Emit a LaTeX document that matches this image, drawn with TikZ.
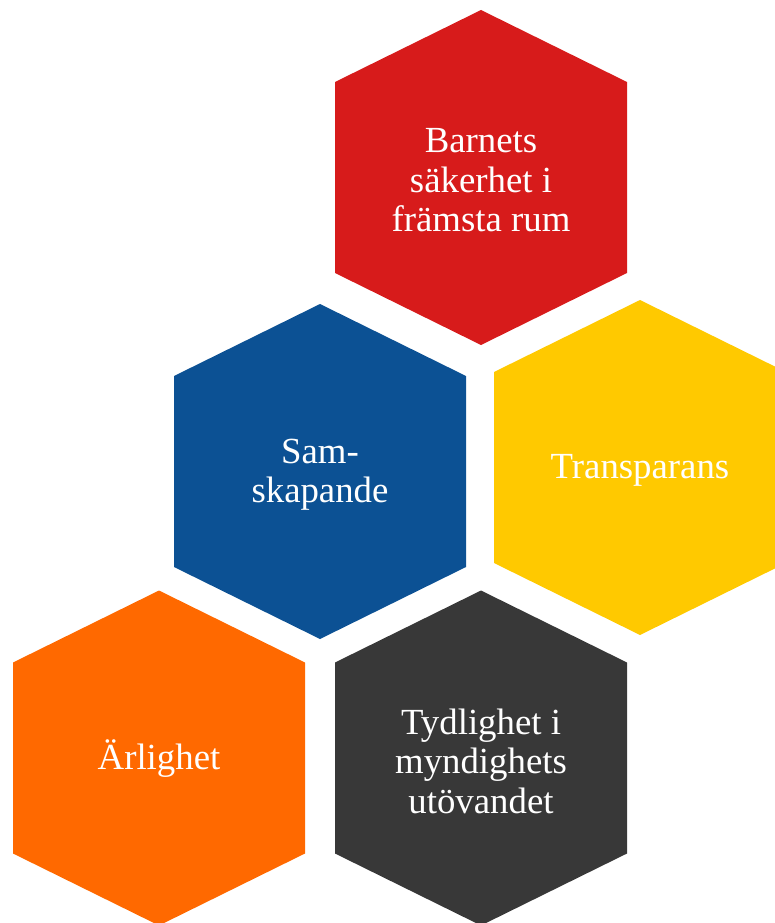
\documentclass[tikz,border=0pt]{standalone}
\usepackage{fontspec}
\setmainfont{Liberation Serif}
\definecolor{hexred}{HTML}{D71B1B}
\definecolor{hexblue}{HTML}{0C5194}
\definecolor{hexyellow}{HTML}{FFC900}
\definecolor{hexorange}{HTML}{FF6900}
\definecolor{hexdark}{HTML}{383838}
\tikzset{
  hexagon/.pic={\fill (0,-167.5) -- (146,-95.5) -- (146,95.5) -- (0,167.5) -- (-146,95.5) -- (-146,-95.5) -- cycle;},
  hextext/.style={text=white, align=center, inner sep=0pt, yshift=-3pt, font=\fontsize{36.8}{39.5}\selectfont}
}
\begin{document}
\begin{tikzpicture}[x=1pt,y=-1pt]
\clip (0,0) rectangle (775,923);
\pic[fill=hexred] at (481,177.5) {hexagon};
\pic[fill=hexblue] at (320,471.5) {hexagon};
\pic[fill=hexyellow] at (640,467.5) {hexagon};
\pic[fill=hexorange] at (159,758) {hexagon};
\pic[fill=hexdark] at (481,758) {hexagon};
\node[hextext] (barn) at (481,177.5) {Barnets\\säkerhet i\\främsta rum};
\node[hextext] (sam) at (320,471.5) {Sam-\\skapande};
\node[hextext] (trans) at (640,467.5) {Transparans};
\node[hextext] (arl) at (159,756) {Ärlighet};
\node[hextext] (tyd) at (481,758) {Tydlighet i\\myndighets\\utövandet};
\end{tikzpicture}
\end{document}
